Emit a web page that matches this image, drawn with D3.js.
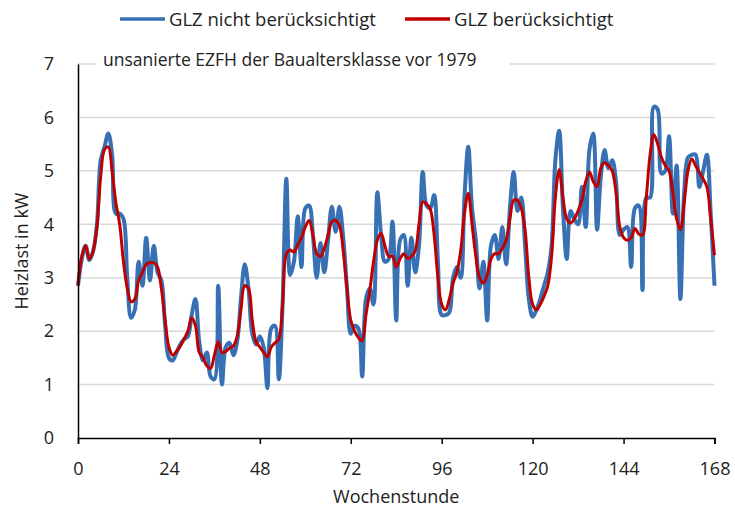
<!DOCTYPE html>
<html><head><meta charset="utf-8">
<script src="https://cdn.jsdelivr.net/npm/d3@7"></script>
<style>body{margin:0;background:#fff}svg{display:block}text{font-family:"Open Sans",sans-serif;fill:#222}</style>
</head><body>
<svg id="c" width="735" height="513"></svg>
<script>
const hours = d3.range(0, 169);
const xTicks = [0, 24, 48, 72, 96, 120, 144, 168];
const yTicks = [0, 1, 2, 3, 4, 5, 6, 7];
const seriesNames = ["GLZ nicht berücksichtigt", "GLZ berücksichtigt"];
const subtitle = "unsanierte EZFH der Baualtersklasse vor 1979";
const xTitle = "Wochenstunde";
const yTitle = "Heizlast in kW";

const blueValues = [
2.85,3.35,3.6,3.33,3.5,4.0,5.2,5.45,5.7,5.3,4.2,4.2,4.1,3.0,2.25,2.4,3.3,2.85,3.75,2.95,
3.6,3.1,2.95,2.1,1.5,1.45,1.6,1.75,1.85,1.9,2.3,2.6,1.8,1.45,1.6,1.15,1.1,2.85,1.0,1.7,
1.78,1.55,1.8,2.6,3.25,2.8,1.95,1.75,1.9,1.7,0.93,2.05,2.1,1.1,2.5,4.85,3.05,3.3,4.15,3.2,
4.3,4.35,3.8,3.0,3.65,3.1,3.7,4.33,3.86,4.33,3.75,2.8,1.95,2.1,2.05,1.15,2.6,2.8,2.5,4.6,
3.8,3.3,3.35,4.05,2.2,3.7,3.8,2.85,3.75,3.1,3.6,4.98,4.35,4.3,4.55,3.3,2.3,2.3,2.35,3.0,
3.2,3.0,4.5,5.45,4.3,3.7,2.8,3.3,2.2,3.6,3.8,3.35,3.95,3.25,4.3,4.98,4.25,4.5,3.6,2.6,
2.27,2.4,2.6,2.85,3.1,3.6,5.2,5.75,4.3,3.35,4.25,4.1,4.0,4.7,3.95,5.4,5.7,3.9,4.9,5.39,
5.05,5.2,4.8,3.8,3.9,3.95,3.2,4.3,4.35,2.77,4.5,4.5,6.2,6.15,4.95,5.0,5.65,4.2,5.1,2.6,
4.6,5.25,5.3,5.3,4.7,5.0,5.3,4.2,2.85];

const redValues = [
2.85,3.4,3.6,3.35,3.5,3.95,4.9,5.4,5.45,5.0,4.4,4.0,3.3,2.8,2.55,2.6,2.95,3.1,3.25,3.28,
3.28,3.2,2.8,2.2,1.7,1.55,1.62,1.72,1.85,2.0,2.25,2.1,1.6,1.5,1.35,1.3,1.55,1.8,1.6,1.62,
1.68,1.72,1.9,2.4,2.85,2.8,2.2,1.8,1.7,1.6,1.52,1.7,1.78,1.85,2.5,3.45,3.52,3.48,3.62,3.75,
3.95,4.07,3.8,3.45,3.4,3.55,3.8,4.05,4.07,3.98,3.5,2.8,2.2,2.0,1.88,1.82,2.3,2.75,3.3,3.7,
3.83,3.6,3.4,3.4,3.2,3.35,3.45,3.36,3.4,3.5,4.0,4.42,4.38,4.28,3.8,3.0,2.5,2.4,2.6,2.9,
3.1,3.5,4.2,4.58,4.0,3.4,3.0,2.9,3.05,3.35,3.45,3.45,3.55,3.7,4.1,4.45,4.45,4.3,3.9,3.0,
2.5,2.4,2.5,2.65,2.85,3.4,4.5,5.02,4.5,4.1,4.02,4.1,4.25,4.45,4.8,4.98,4.8,4.7,5.05,5.15,
5.1,5.0,4.6,3.95,3.75,3.7,3.75,3.92,3.82,3.8,4.5,5.3,5.68,5.5,5.25,5.1,5.0,4.6,4.1,3.9,
4.4,5.0,5.22,5.1,4.97,4.85,4.7,4.1,3.42];

const colors = ["#3771b4", "#c00000"];
const widths = [4, 3];

const svg = d3.select("#c");
const x = d3.scaleLinear().domain([0, 168]).range([78, 714.5]);
const y = d3.scaleLinear().domain([0, 7]).range([438, 64]);

// gridlines
svg.append("g").selectAll("line").data(yTicks.filter(d => d > 0)).join("line")
  .attr("x1", x(0)).attr("x2", x(168)).attr("y1", d => y(d)).attr("y2", d => y(d))
  .attr("stroke", "#d9d9d9").attr("stroke-width", 1.5);

// subtitle box
svg.append("rect").attr("x", 96).attr("y", 44).attr("width", 414).attr("height", 34).attr("fill", "#fff");
svg.append("text").attr("x", 103).attr("y", 66).attr("font-size", 17.5).text(subtitle);

// lines
const line = d3.line().x((d, i) => x(hours[i])).y(d => y(d)).curve(d3.curveCatmullRom.alpha(0.5));
[blueValues, redValues].forEach((vals, k) => {
  svg.append("path").datum(vals).attr("d", line).attr("fill", "none")
    .attr("stroke", colors[k]).attr("stroke-width", widths[k]).attr("stroke-linejoin", "round");
});

// axes
const xAxis = d3.axisBottom(x).tickValues(xTicks).tickSize(6).tickPadding(18).tickFormat(d3.format("d"));
const gx = svg.append("g").attr("transform", `translate(0,${y(0)})`).call(xAxis);
gx.select(".domain").attr("stroke", "#000").attr("stroke-width", 1.5);
gx.selectAll(".tick line").attr("stroke", "#000").attr("stroke-width", 1.5);
gx.selectAll("text").attr("font-size", 18).attr("font-family", "Open Sans").attr("fill", "#222");

const yAxis = d3.axisLeft(y).tickValues(yTicks).tickSize(0).tickPadding(24).tickFormat(d3.format("d"));
const gy = svg.append("g").attr("transform", `translate(${x(0)},0)`).call(yAxis);
gy.select(".domain").attr("stroke", "#000").attr("stroke-width", 1.5);
gy.selectAll("text").attr("font-size", 18).attr("font-family", "Open Sans").attr("fill", "#222");

svg.append("text").attr("x", (x(0) + x(168)) / 2).attr("y", 503).attr("text-anchor", "middle")
  .attr("font-size", 18).text(xTitle);
svg.append("text").attr("transform", `translate(28,${y(3.5)}) rotate(-90)`).attr("text-anchor", "middle")
  .attr("font-size", 18).text(yTitle);

// legend
const legX = [120, 405];
seriesNames.forEach((n, k) => {
  svg.append("line").attr("x1", legX[k]).attr("x2", legX[k] + 45).attr("y1", 19).attr("y2", 19)
    .attr("stroke", colors[k]).attr("stroke-width", 3.5);
  svg.append("text").attr("x", legX[k] + 49).attr("y", 26).attr("font-size", 18.5).text(n);
});
</script>
</body></html>
